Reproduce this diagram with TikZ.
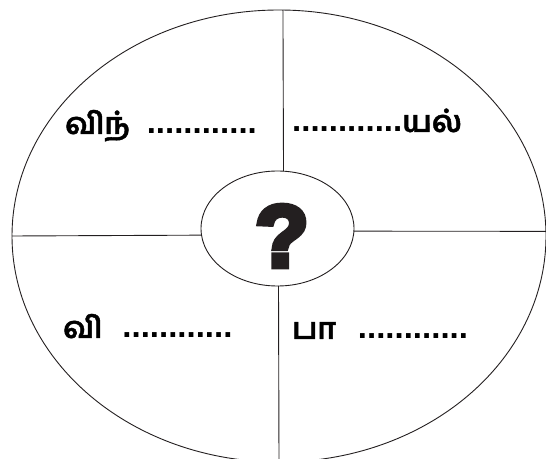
\documentclass[tikz,border=0pt]{standalone}
\usepackage{fontspec}
\usepackage{tikz}
\usepackage{xcolor}
\usetikzlibrary{shapes.geometric}
\newfontfamily\tamilfont[Script=Tamil,FakeBold=1.4]{Hind Madurai}
\newfontfamily\dotfont{Liberation Sans}
\newfontfamily\heavyfont[FakeBold=6]{Liberation Sans}
\definecolor{inkDark}{RGB}{35,31,32}
\newcommand{\blankdots}{{\dotfont\bfseries\fontsize{33}{36}\selectfont ............}}
\newcommand{\tamilword}[1]{{\tamilfont\bfseries\fontsize{30}{34}\selectfont #1}}
\tikzset{
  rimline/.style={draw=inkDark,line width=0.9pt},
  splitline/.style={draw=inkDark,line width=0.9pt},
  quadlabel/.style={inner sep=0pt,anchor=base west,text=black}
}

\begin{document}
\begin{tikzpicture}[x=1pt,y=1pt]
  \useasboundingbox (0,0) rectangle (546,458);
  \clip (0,0) rectangle (546,458);
  \node[ellipse,rimline,minimum width=534pt,minimum height=452pt,inner sep=0pt,outer sep=0pt] (rim) at (279,222) {};
  \node[ellipse,rimline,minimum width=153pt,minimum height=115pt,inner sep=0pt,outer sep=0pt] (core) at (277.5,229.5) {};
  \node[inner sep=0pt,text=inkDark,font=\heavyfont\bfseries\fontsize{88}{96}\selectfont] (quest) at (282,222) {?};
  % the four spokes
  \draw[splitline] (core.84.5) -- (rim.89);
  \draw[splitline] (core.271.5) -- (rim.south);
  \draw[splitline] (core.185.7) -- (rim.west);
  \draw[splitline] (core.358.1) -- (rim.1.3);
  % quadrant labels
  \node[quadlabel] (labNW) at (65,324) {\tamilword{விந்}\hspace{17pt}\blankdots};
  \node[quadlabel] (labNE) at (292,326) {\blankdots\tamilword{யல்}};
  \node[quadlabel] (labSW) at (63,120) {\tamilword{வி}\hspace{20pt}\blankdots};
  \node[quadlabel] (labSE) at (292,119) {\tamilword{பா}\hspace{22pt}\blankdots};
\end{tikzpicture}
\end{document}
